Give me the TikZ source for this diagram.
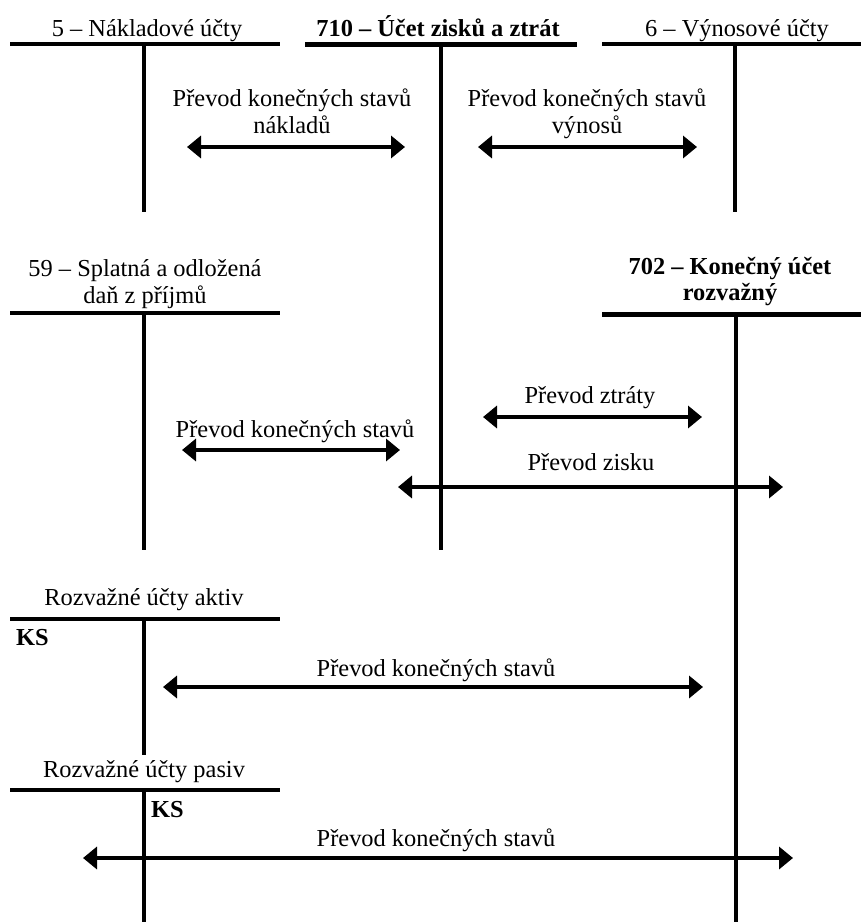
\documentclass[tikz,border=0pt]{standalone}
\usepackage{fontspec}
\setmainfont{Liberation Serif}
\usetikzlibrary{arrows.meta}
\tikzset{
  lbl/.style={font=\fontsize{24.4}{27}\selectfont, inner sep=0pt, anchor=base, align=center},
  blbl/.style={lbl, font=\fontsize{24.4}{26}\selectfont\bfseries},
  thinln/.style={line width=3.2pt},
  thickln/.style={line width=5pt},
  vthick/.style={line width=4pt},
  tip/.tip={Triangle[length=14pt,width=22pt]},
  both/.style={line width=4pt, tip-tip},
}
\begin{document}
\begin{tikzpicture}[x=1pt,y=-1pt]
\useasboundingbox (0,0) rectangle (861,922);
% --- T-accounts: top row
\node[lbl] (t5) at (147,36) {5 – Nákladové účty};
\draw[thinln] (10,44) -- (280,44);
\draw[thinln] (144,44) -- (144,212);
\node[blbl] (t710) at (438,36) {710 – Účet zisků a ztrát};
\draw[thickln] (305,44) -- (577,44);
\draw[vthick] (441,44) -- (441,550);
\node[lbl] (t6) at (737,36) {6 – Výnosové účty};
\draw[thinln] (602,44) -- (861,44);
\draw[thinln] (735,44) -- (735,212);
% arrows top
\coordinate (n1) at (187,147); \coordinate (n2) at (405,147);
\draw[both] (n1) -- (n2);
\node[lbl] (ln) at (292,133) {Převod konečných stavů\\nákladů};
\coordinate (v1) at (478,147); \coordinate (v2) at (697,147);
\draw[both] (v1) -- (v2);
\node[lbl] (lv) at (587,133) {Převod konečných stavů\\výnosů};
% --- 59 and 702
\node[lbl] (t59) at (145,303) {59 – Splatná a odložená\\daň z příjmů};
\draw[thinln] (10,313) -- (280,313);
\draw[thinln] (144,313) -- (144,550);
\node[blbl] (t702) at (730,300) {702 – Konečný účet\\rozvažný};
\draw[thickln] (602,314) -- (861,314);
\draw[vthick] (736,314) -- (736,922);
\coordinate (z1) at (483,417); \coordinate (z2) at (702,417);
\draw[both] (z1) -- (z2);
\node[lbl] (lz) at (590,403) {Převod ztráty};
\coordinate (d1) at (182,450); \coordinate (d2) at (400,450);
\draw[both] (d1) -- (d2);
\node[lbl] (ld) at (295,437) {Převod konečných stavů};
\coordinate (p1) at (398,487); \coordinate (p2) at (783,487);
\draw[both] (p1) -- (p2);
\node[lbl] (lp) at (591,470) {Převod zisku};
% --- aktiv
\node[lbl] (ta) at (144,605) {Rozvažné účty aktiv};
\draw[thinln] (10,619) -- (280,619);
\draw[thinln] (144,619) -- (144,755);
\node[blbl, anchor=base west] (ksa) at (16,645) {KS};
\coordinate (a1) at (163,687); \coordinate (a2) at (703,687);
\draw[both] (a1) -- (a2);
\node[lbl] (la) at (436,676) {Převod konečných stavů};
% --- pasiv
\node[lbl] (tp) at (144,777) {Rozvažné účty pasiv};
\draw[thinln] (10,790) -- (280,790);
\draw[thinln] (144,790) -- (144,922);
\node[blbl, anchor=base west] (ksp) at (151,817) {KS};
\coordinate (q1) at (83,858); \coordinate (q2) at (793,858);
\draw[both] (q1) -- (q2);
\node[lbl] (lq) at (436,846) {Převod konečných stavů};
\end{tikzpicture}
\end{document}
